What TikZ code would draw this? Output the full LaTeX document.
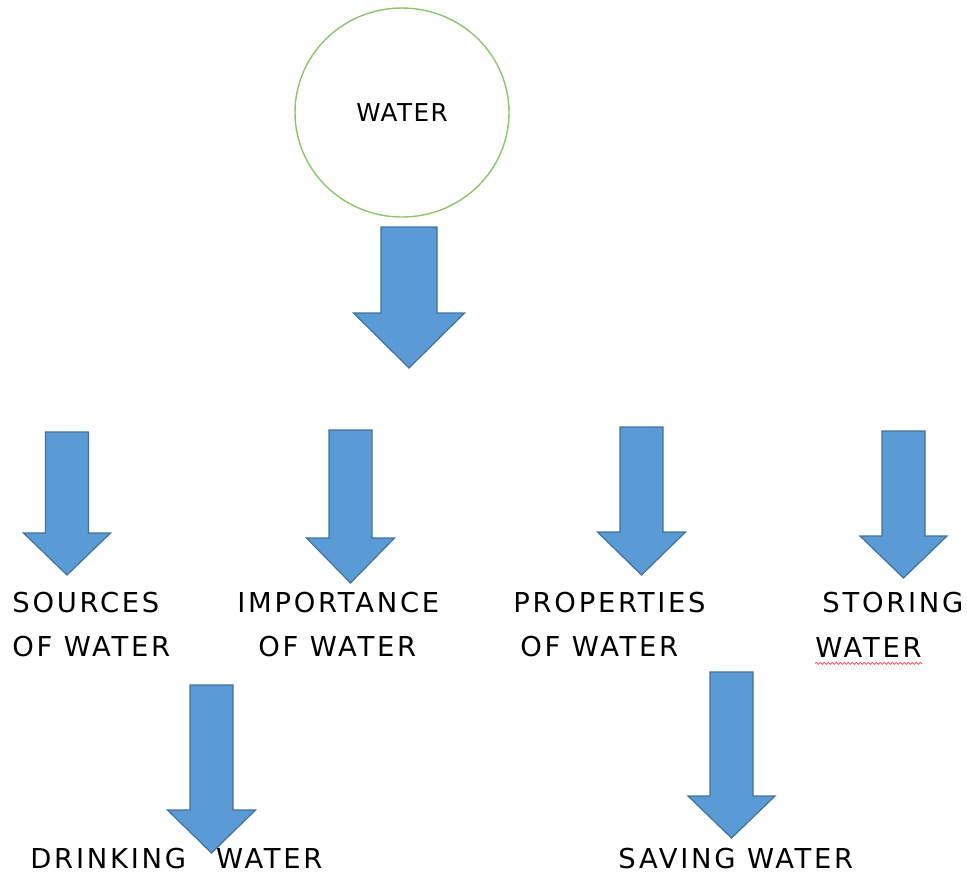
\documentclass[tikz,border=0pt]{standalone}
\usepackage{fontspec}
\usetikzlibrary{positioning,shapes.geometric,decorations.pathmorphing}

\newfontfamily\comicfont[LetterSpace=10]{DejaVu Sans}
\newfontfamily\titlefont[LetterSpace=6]{DejaVu Sans}
\definecolor{arrowfill}{HTML}{5B9BD5}
\definecolor{arrowline}{HTML}{41719C}
\definecolor{ringgreen}{HTML}{8CC46A}

% down arrow: centre x, top, head base, tip, half shaft, half head
\newcommand{\downblock}[6]{%
  \draw[fatarrow] (#1-#5,#2) -- (#1+#5,#2) -- (#1+#5,#3) -- (#1+#6,#3)
    -- (#1,#4) -- (#1-#6,#3) -- (#1-#5,#3) -- cycle;}

\begin{document}
\begin{tikzpicture}[
    x=0.5pt, y=-0.5pt,
    fatarrow/.style={fill=arrowfill, draw=arrowline, line width=0.6pt, line join=miter},
    topic/.style={ellipse, draw=ringgreen, line width=0.7pt, minimum width=107pt, minimum height=104.5pt,
      font=\titlefont\fontsize{12.3}{14}\selectfont},
    itemtext/.style={anchor=west, inner sep=0pt, font=\comicfont\fontsize{13.7}{16}\selectfont}
]
\useasboundingbox (0,0) rectangle (967,875);

% Main topic
\node[topic] (water) at (402,112.5) {WATER};

% Arrows
\downblock{409}{227}{313}{368}{28}{55.5}
\downblock{67}{432}{533}{575}{21.5}{43.5}
\downblock{350.5}{430}{538}{583}{21.5}{44}
\downblock{641.5}{427}{532}{575}{21.5}{44}
\downblock{903.5}{431}{536}{578}{21.5}{43.5}
\downblock{211.5}{685}{810}{853}{21.5}{44}
\downblock{731.5}{672}{796}{838}{21.5}{43.5}

% Sub topics
\node[itemtext] (sources) at (12,603) {SOURCES};
\node[itemtext] (sources2) at (12,647) {OF WATER};
\node[itemtext] (importance) at (237,603) {IMPORTANCE};
\node[itemtext] (importance2) at (258,647) {OF WATER};
\node[itemtext] (properties) at (513,603) {PROPERTIES};
\node[itemtext] (properties2) at (520,647) {OF WATER};
\node[itemtext] (storing) at (822,603) {STORING};
\node[itemtext] (storing2) at (815,647) {WATER};
\node[itemtext] (drinking) at (30,859) {DRINKING\hspace{1.1em}WATER};
\node[itemtext] (saving) at (618,859) {SAVING WATER};

% spelling mark
\draw[red!75, line width=0.4pt, decorate, decoration={snake, amplitude=0.5pt, segment length=2pt}]
  ([yshift=-3pt]storing2.south west) -- ([yshift=-3pt]storing2.south east);

\end{tikzpicture}
\end{document}
